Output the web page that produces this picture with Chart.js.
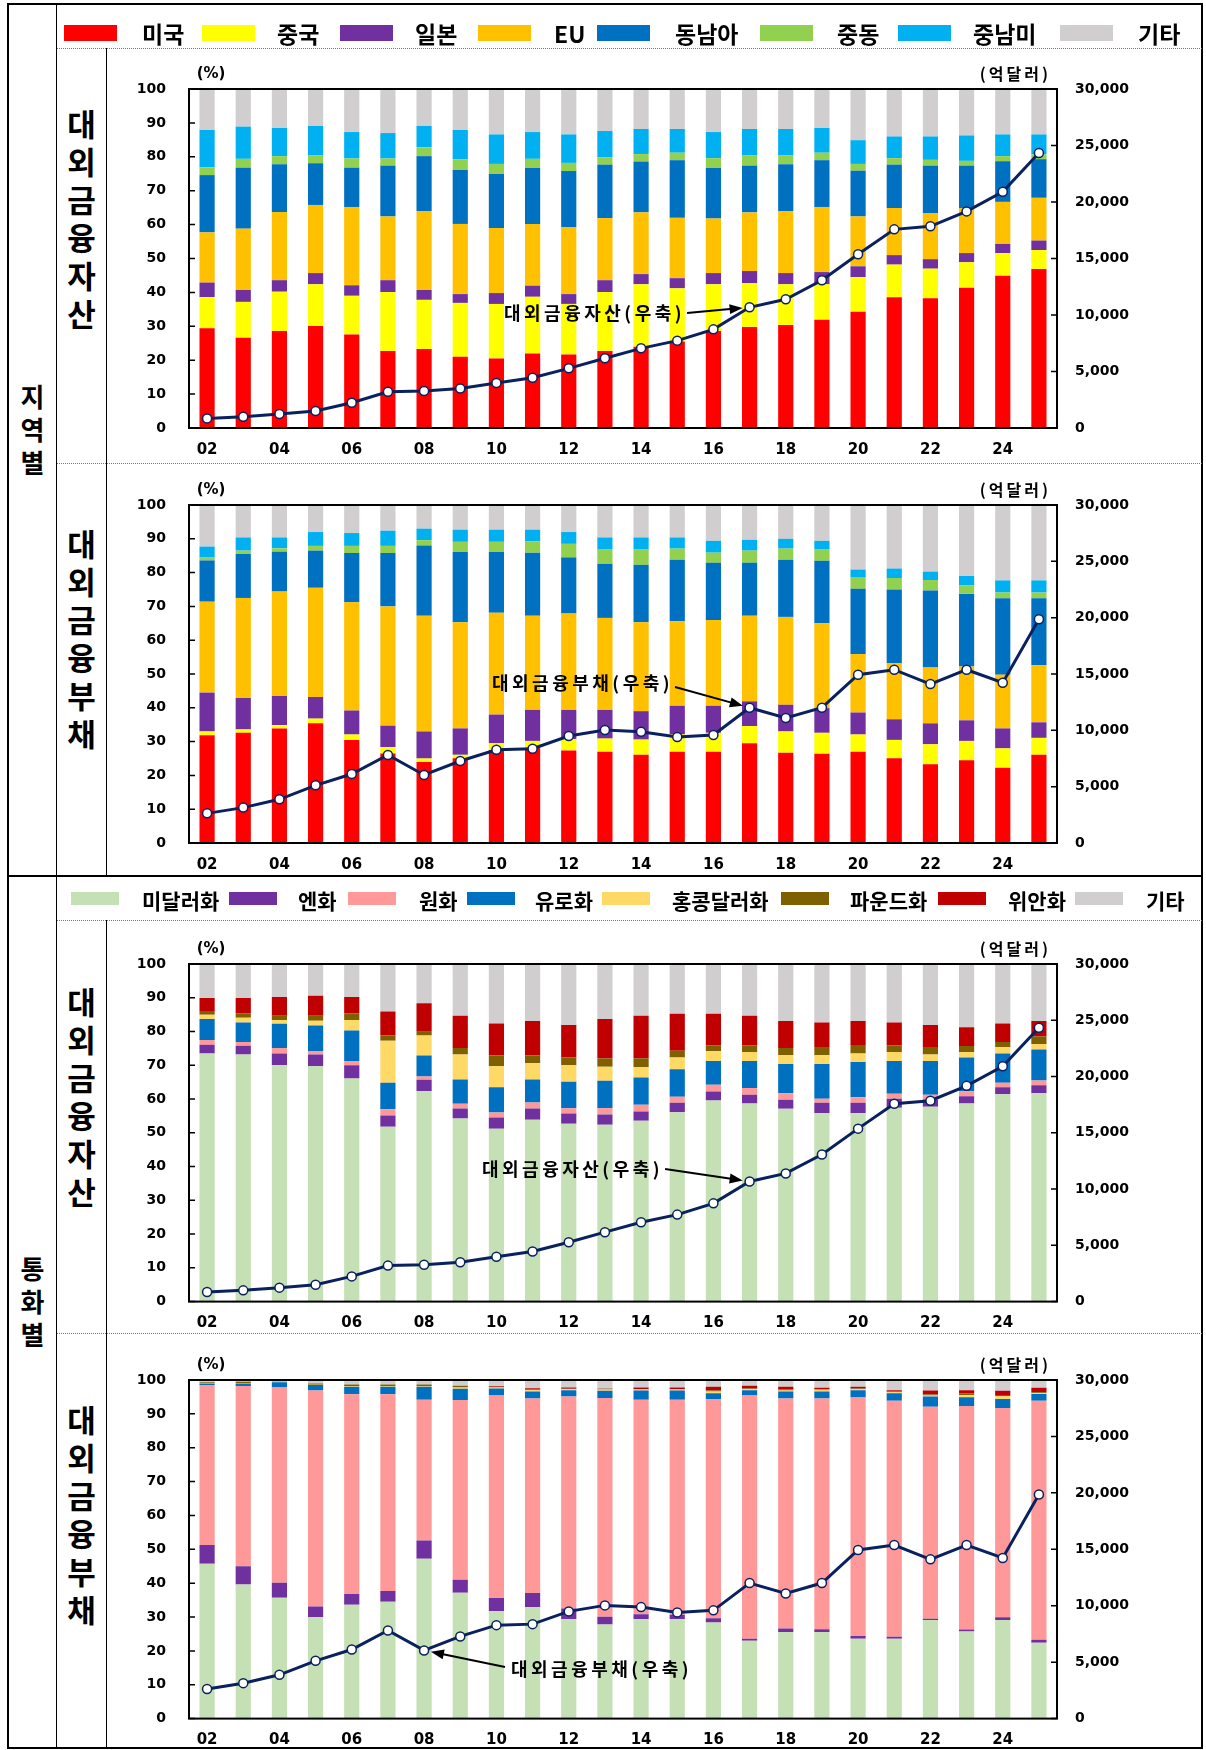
<!DOCTYPE html>
<html>
<head>
<meta charset="utf-8">
<title>대외금융자산·부채 구성</title>
<script src="https://cdn.jsdelivr.net/npm/chart.js@4.4.1/dist/chart.umd.min.js"></script>
<style>
  body { margin: 0; background: #fff; }
  #page { position: relative; width: 1206px; height: 1750px; overflow: hidden; font-family: "Noto Sans CJK KR", sans-serif; }
  .ln { position: absolute; background: #000; }
  .dot { position: absolute; height: 0; border-top: 1px dotted #777; }
  .lg { position: absolute; font-weight: 700; color: #000; white-space: nowrap; }
  .sw { position: absolute; }
  .vt { position: absolute; text-align: center; font-weight: 700; color: #000; }
  canvas { position: absolute; }
</style>
</head>
<body>
<div id="page">
  <canvas id="c1" width="1096" height="415" style="left:106px;top:48px"></canvas>
  <canvas id="c2" width="1096" height="413" style="left:106px;top:463px"></canvas>
  <canvas id="c3" width="1096" height="413" style="left:106px;top:920px"></canvas>
  <canvas id="c4" width="1096" height="417" style="left:106px;top:1333px"></canvas>

  <div class="ln" style="left:7px;top:3px;width:1196px;height:2px"></div>
  <div class="ln" style="left:7px;top:1747px;width:1196px;height:2px"></div>
  <div class="ln" style="left:7px;top:3px;width:2px;height:1746px"></div>
  <div class="ln" style="left:1201px;top:3px;width:2px;height:1746px"></div>
  <div class="ln" style="left:56px;top:3px;width:1px;height:1746px"></div>
  <div class="ln" style="left:106px;top:48px;width:1px;height:828px"></div>
  <div class="ln" style="left:106px;top:920px;width:1px;height:828px"></div>
  <div class="ln" style="left:7px;top:875px;width:1196px;height:2px"></div>
  <div class="dot" style="left:57px;top:48px;width:1145px"></div>
  <div class="dot" style="left:57px;top:463px;width:1145px"></div>
  <div class="dot" style="left:57px;top:920px;width:1145px"></div>
  <div class="dot" style="left:57px;top:1333px;width:1145px"></div>
</div>

<script>
// x categories (years 2002-2025) and the labels actually printed on the axis
var years = ['02','03','04','05','06','07','08','09','10','11','12','13','14','15','16','17','18','19','20','21','22','23','24','25'];
var xTickLabels = ['02','04','06','08','10','12','14','16','18','20','22','24'];
var pctTicks = [0,10,20,30,40,50,60,70,80,90,100];
var usdTicks = [0,5000,10000,15000,20000,25000,30000];

// 총액 (억달러, 우축)
var assetTotal = [850,1000,1240,1500,2240,3200,3270,3500,3980,4450,5280,6170,7050,7730,8730,10680,11390,13070,15370,17580,17850,19170,20910,24340];
var liabTotal  = [2630,3140,3880,5120,6120,7810,6040,7280,8280,8370,9500,10030,9880,9410,9590,12010,11090,12010,14940,15380,14110,15380,14230,19850];

// 지역별 대외금융자산 (%)
var regAssetUS    = [29.4,26.6,28.6,30.1,27.6,22.7,23.3,21.0,20.5,22.0,21.7,22.7,24.0,25.5,28.6,29.8,30.4,31.9,34.3,38.6,38.3,41.4,44.9,46.9];
var regAssetCN    = [9.2,10.6,11.6,12.3,11.4,17.4,14.5,15.9,16.1,16.7,14.9,17.4,18.4,15.7,13.8,12.9,12.0,10.5,10.2,9.6,8.7,7.5,6.7,5.6];
var regAssetJP    = [4.3,3.5,3.4,3.3,3.1,3.5,2.9,2.6,3.2,3.3,2.9,3.5,3.0,3.0,3.3,3.6,3.3,3.6,3.2,2.8,2.8,2.7,2.7,2.8];
var regAssetEU    = [14.8,18.1,20.1,20.1,23.1,18.8,23.3,20.7,19.2,18.2,19.8,18.3,18.2,17.8,16.1,17.3,18.3,19.2,14.7,13.9,13.5,13.3,12.4,12.6];
var regAssetSEA   = [16.9,18.0,14.1,12.3,11.6,15.0,16.2,15.9,15.9,16.6,16.5,15.8,15.0,17.0,15.0,13.8,13.8,13.8,13.5,12.8,14.1,12.5,12.0,11.4];
var regAssetME    = [2.3,2.6,2.4,2.4,2.7,2.1,2.6,3.2,3.0,2.6,2.4,2.2,2.2,2.2,2.8,3.1,2.7,2.2,2.0,1.9,1.7,1.4,1.5,1.4];
var regAssetLATAM = [11.0,9.5,8.3,8.6,7.8,7.5,6.3,8.6,8.7,7.9,8.4,7.7,7.4,7.0,7.7,7.7,7.7,7.3,7.0,6.4,6.9,7.5,6.4,5.9];
var regAssetETC   = [12.1,11.1,11.5,10.9,12.7,13.0,10.9,12.1,13.4,12.7,13.4,12.4,11.8,11.8,12.7,11.8,11.8,11.5,15.1,14.0,14.0,13.7,13.4,13.4];

// 지역별 대외금융부채 (%)
var regLiabUS    = [31.9,32.6,33.9,35.4,30.5,26.5,24.0,25.1,27.5,28.2,27.4,27.0,26.1,27.0,27.0,29.5,26.7,26.4,27.0,25.1,23.3,24.5,22.3,26.1];
var regLiabCN    = [1.1,1.0,1.0,1.4,1.6,1.9,1.0,1.0,2.0,2.0,3.3,3.9,4.5,5.1,5.6,5.1,6.3,6.2,5.1,5.4,5.9,5.7,5.7,5.0];
var regLiabJP    = [11.5,9.3,8.6,6.4,7.1,6.3,8.0,7.8,8.5,9.2,8.7,8.5,8.4,8.5,8.0,7.3,7.9,7.3,6.5,6.1,6.2,6.1,5.9,4.6];
var regLiabEU    = [26.9,29.6,30.9,32.3,32.0,35.3,34.2,31.4,30.1,27.8,28.5,27.2,26.3,25.0,25.4,25.3,26.0,25.1,17.3,16.6,16.5,15.9,15.9,16.9];
var regLiabSEA   = [12.2,13.0,11.8,11.0,14.6,15.8,20.8,20.9,18.1,18.7,16.6,16.0,17.0,18.2,16.9,15.7,16.9,18.5,19.3,21.8,22.8,21.5,22.6,19.8];
var regLiabME    = [1.0,1.0,1.0,1.4,2.1,2.1,1.6,2.9,2.9,3.4,4.0,4.2,4.5,3.3,3.0,3.6,3.3,3.3,3.3,3.4,3.1,2.6,1.7,1.7];
var regLiabLATAM = [3.1,3.9,3.2,4.1,3.8,4.5,3.4,3.6,3.6,3.4,3.5,3.6,3.6,3.3,3.5,3.2,2.9,2.6,2.4,2.8,2.5,2.7,3.6,3.6];
var regLiabETC   = [12.3,9.6,9.6,8.0,8.3,7.6,7.0,7.3,7.3,7.3,8.0,9.6,9.6,9.6,10.6,10.3,10.0,10.6,19.1,18.8,19.7,21.0,22.3,22.3];

// 통화별 대외금융자산 (%)
var curAssetUSD = [73.5,73.2,70.1,69.8,66.1,51.8,62.3,54.2,51.2,53.9,52.7,52.4,53.6,56.1,59.6,58.7,57.1,55.8,55.8,57.4,57.7,58.7,61.4,61.7];
var curAssetJPY = [2.6,2.6,3.4,3.4,3.9,3.3,3.4,3.0,3.3,3.3,3.0,3.0,2.7,2.8,2.6,2.6,2.7,3.1,3.1,2.7,2.2,2.1,2.1,2.4];
var curAssetKRW = [1.4,1.1,1.6,1.0,1.3,1.9,1.0,1.4,1.5,1.8,1.6,1.9,2.0,1.8,2.0,2.0,1.9,1.2,1.6,1.5,1.4,1.5,1.3,1.4];
var curAssetEUR = [6.2,5.8,7.2,7.6,9.0,7.8,6.2,7.2,7.5,6.8,7.8,8.1,8.1,8.1,7.1,8.0,8.7,10.3,10.5,9.7,10.0,10.0,8.7,9.2];
var curAssetHKD = [1.3,1.4,1.1,1.4,3.1,12.5,5.9,7.4,6.3,4.9,4.9,4.2,3.0,3.5,2.9,2.6,2.6,2.6,2.5,2.6,1.9,1.6,1.9,1.6];
var curAssetGBP = [1.1,1.3,1.3,1.5,2.0,1.5,1.1,1.9,3.1,2.2,2.3,2.4,2.6,2.0,1.7,2.0,2.1,2.4,2.5,2.0,2.2,1.8,1.5,2.2];
var curAssetCNY = [3.8,4.5,5.5,5.9,4.8,7.1,8.5,9.6,9.5,10.2,9.6,11.7,12.7,11.0,9.4,8.8,8.0,7.3,7.1,6.8,6.5,5.6,5.5,4.6];
var curAssetETC = [10.1,10.1,9.8,9.4,9.8,14.1,11.6,15.3,17.6,16.9,18.1,16.3,15.3,14.7,14.7,15.3,16.9,17.3,16.9,17.3,18.1,18.7,17.6,16.9];

// 통화별 대외금융부채 (%)
var curLiabUSD = [45.7,39.6,35.7,30.0,33.6,34.5,47.2,37.2,31.8,32.9,29.4,27.8,29.4,29.4,28.4,23.0,25.6,25.6,23.6,23.6,29.1,25.7,29.1,22.4];
var curLiabJPY = [5.6,5.4,4.4,3.1,3.2,3.2,5.4,3.8,3.8,4.2,3.1,2.3,1.4,1.3,1.2,0.6,1.0,0.8,0.8,0.6,0.4,0.6,0.8,0.9];
var curLiabKRW = [47.2,53.2,57.7,63.8,59.0,58.1,41.6,53.1,59.8,57.4,62.6,64.6,63.4,63.5,64.8,71.8,67.9,68.1,70.4,69.7,62.6,66.0,61.8,70.6];
var curLiabEUR = [0.5,0.8,1.5,1.6,2.2,2.2,3.8,3.3,2.1,2.1,1.9,2.1,2.7,2.7,1.7,1.6,2.1,2.1,2.2,2.2,3.0,2.6,2.7,2.0];
var curLiabHKD = [0.1,0.1,0.1,0.1,0.2,0.2,0.2,0.4,0.3,0.4,0.3,0.4,0.3,0.3,0.5,0.3,0.3,0.5,0.3,0.3,0.3,0.7,0.8,0.2];
var curLiabGBP = [0.2,0.4,0.1,0.4,0.5,0.5,0.5,0.5,0.2,0.2,0.1,0.2,0.1,0.1,0.3,0.2,0.3,0.2,0.2,0.3,0.3,0.4,0.4,0.3];
var curLiabCNY = [0.0,0.0,0.0,0.0,0.0,0.0,0.0,0.0,0.2,0.4,0.4,0.1,0.5,0.5,1.1,0.8,0.8,0.4,0.5,0.3,1.2,1.0,1.2,1.3];
var curLiabETC = [0.7,0.5,0.5,1.0,1.3,1.3,1.3,1.7,1.8,2.4,2.2,2.5,2.2,2.2,2.0,1.7,2.0,2.3,2.0,3.0,3.1,3.0,3.2,2.3];

var regionNames = ['미국','중국','일본','EU','동남아','중동','중남미','기타'];
var currencyNames = ['미달러화','엔화','원화','유로화','홍콩달러화','파운드화','위안화','기타'];

var regionColors = ['#FF0000','#FFFF00','#7030A0','#FFC000','#0070C0','#92D050','#00B0F0','#D0CECE'];
var currencyColors = ['#C5E0B4','#7030A0','#FF9999','#0070C0','#FFD966','#7F6000','#C00000','#D0CECE'];
var lineColor = '#0A215F';

Chart.defaults.font.family = "'DejaVu Sans'";
Chart.defaults.color = '#000';

// ---------- page decorations (legends, side labels) ----------
var page = document.getElementById('page');

function addLegend(names, colors, pos, swTop, swW, swH, txtMid, fontSize) {
  for (var i = 0; i < names.length; i++) {
    var sw = document.createElement('div');
    sw.className = 'sw';
    sw.style.cssText = 'left:' + pos[i][0] + 'px;top:' + swTop + 'px;width:' + swW + 'px;height:' + swH + 'px;background:' + colors[i];
    page.appendChild(sw);
    var tx = document.createElement('div');
    tx.className = 'lg';
    tx.style.cssText = 'left:' + pos[i][1] + 'px;top:' + (txtMid - 15) + 'px;line-height:30px;font-size:' + fontSize + 'px';
    tx.textContent = names[i];
    page.appendChild(tx);
  }
}
addLegend(regionNames, regionColors,
  [[64,142],[202,277],[340,415],[478,554],[597,675],[760,837],[898,973],[1060,1138]], 25, 53, 16, 33, 23);
addLegend(currencyNames, currencyColors,
  [[71,142],[229,298],[348,419],[467,535],[602,672],[781,850],[938,1008],[1075,1146]], 892, 48, 13, 900, 21);

function addVertical(text, left, width, top, size, lh) {
  var d = document.createElement('div');
  d.className = 'vt';
  d.style.cssText = 'left:' + left + 'px;top:' + top + 'px;width:' + width + 'px;font-size:' + size + 'px;line-height:' + lh + 'px';
  d.innerHTML = text.split('').join('<br>');
  page.appendChild(d);
}
addVertical('지역별', 9, 47, 379, 26, 33);
addVertical('통화별', 9, 47, 1251, 26, 33);
addVertical('대외금융자산', 57, 49, 104, 31, 38);
addVertical('대외금융부채', 57, 49, 524, 31, 38);
addVertical('대외금융자산', 57, 49, 982, 31, 38);
addVertical('대외금융부채', 57, 49, 1400, 31, 38);

// ---------- frame, inward ticks, unit labels, arrow note ----------
var decorPlugin = {
  id: 'decor',
  afterDatasetsDraw: function (chart) {
    var ctx = chart.ctx, a = chart.chartArea;
    var yl = chart.scales.y, yr = chart.scales.y1;
    var note = chart.options.plugins.decor;
    ctx.save();
    ctx.strokeStyle = '#000';
    ctx.lineWidth = 1.5;
    ctx.beginPath();
    yl.ticks.forEach(function (t) {
      var p = yl.getPixelForValue(t.value);
      ctx.moveTo(a.left, p); ctx.lineTo(a.left + 6, p);
    });
    yr.ticks.forEach(function (t) {
      var p = yr.getPixelForValue(t.value);
      ctx.moveTo(a.right - 6, p); ctx.lineTo(a.right, p);
    });
    ctx.stroke();
    ctx.lineWidth = 2;
    ctx.strokeRect(a.left, a.top, a.right - a.left, a.bottom - a.top);

    ctx.fillStyle = '#000';
    ctx.textBaseline = 'middle';
    ctx.textAlign = 'center';
    ctx.font = "bold 15px 'DejaVu Sans'";
    ctx.fillText('(%)', a.left + 22, a.top - 15);
    ctx.textAlign = 'right';
    ctx.font = "bold 16px 'Noto Sans CJK KR'";
    ctx.letterSpacing = '3px';
    ctx.fillText('(억달러)', a.right - 6, a.top - 15);

    // note text with arrow to a point of the total line
    ctx.textAlign = 'left';
    ctx.font = "bold 18px 'Noto Sans CJK KR'";
    ctx.letterSpacing = '3.5px';
    ctx.fillText(note.text, note.x, note.y);
    var w = ctx.measureText(note.text).width;
    ctx.letterSpacing = '0px';
    var pt = chart.getDatasetMeta(0).data[note.idx];
    var tx = note.side === 'end' ? note.x + w + 2 : note.x - 6;
    var ty = note.y + note.dy;
    var dx = pt.x - tx, dy = pt.y - ty, len = Math.sqrt(dx * dx + dy * dy);
    var ux = dx / len, uy = dy / len;
    var hx = pt.x - ux * 7, hy = pt.y - uy * 7;
    ctx.lineWidth = 2;
    ctx.beginPath();
    ctx.moveTo(tx, ty);
    ctx.lineTo(hx - ux * 10, hy - uy * 10);
    ctx.stroke();
    ctx.beginPath();
    ctx.moveTo(hx, hy);
    ctx.lineTo(hx - ux * 13 - uy * 5, hy - uy * 13 + ux * 5);
    ctx.lineTo(hx - ux * 13 + uy * 5, hy - uy * 13 - ux * 5);
    ctx.closePath();
    ctx.fill();
    ctx.restore();
  }
};

function makeChart(id, series, names, colors, totals, padTop, axisH, note) {
  var datasets = [{
    type: 'line',
    data: totals,
    yAxisID: 'y1',
    borderColor: lineColor,
    borderWidth: 3,
    pointRadius: 4.5,
    pointBackgroundColor: '#fff',
    pointBorderColor: lineColor,
    pointBorderWidth: 1.5,
    tension: 0,
    order: 0
  }];
  for (var i = 0; i < series.length; i++) {
    datasets.push({
      type: 'bar',
      label: names[i],
      data: series[i],
      yAxisID: 'y',
      backgroundColor: colors[i],
      borderWidth: 0,
      barPercentage: 0.42,
      categoryPercentage: 1,
      order: 1
    });
  }
  return new Chart(document.getElementById(id), {
    data: { labels: years, datasets: datasets },
    options: {
      responsive: false,
      animation: false,
      layout: { padding: { top: padTop, left: 0, right: 0, bottom: 0 } },
      plugins: { legend: { display: false }, tooltip: { enabled: false }, decor: note },
      scales: {
        x: {
          stacked: true,
          grid: { display: false, drawTicks: false },
          border: { display: false },
          ticks: {
            autoSkip: false, maxRotation: 0, padding: 13,
            font: { size: 15, weight: 'bold' },
            callback: function (v, i) { return xTickLabels.indexOf(years[i]) >= 0 ? years[i] : ''; }
          },
          afterFit: function (s) { s.height = axisH; }
        },
        y: {
          position: 'left', stacked: true, min: 0, max: 100,
          grid: { display: false, drawTicks: false },
          border: { display: false },
          afterBuildTicks: function (s) { s.ticks = pctTicks.map(function (v) { return { value: v }; }); },
          ticks: { padding: 23, font: { size: 14, weight: 'bold' } },
          afterFit: function (s) { s.width = 83; }
        },
        y1: {
          position: 'right', min: 0, max: 30000,
          grid: { display: false, drawTicks: false },
          border: { display: false },
          afterBuildTicks: function (s) { s.ticks = usdTicks.map(function (v) { return { value: v }; }); },
          ticks: {
            padding: 18, font: { size: 14, weight: 'bold' },
            callback: function (v) { return Number(v).toLocaleString('en-US'); }
          },
          afterFit: function (s) { s.width = 145; }
        }
      }
    },
    plugins: [decorPlugin]
  });
}

makeChart('c1',
  [regAssetUS, regAssetCN, regAssetJP, regAssetEU, regAssetSEA, regAssetME, regAssetLATAM, regAssetETC],
  regionNames, regionColors, assetTotal, 41, 35,
  { text: '대외금융자산(우축)', x: 398, y: 265, dy: 0, idx: 15, side: 'end' });
makeChart('c2',
  [regLiabUS, regLiabCN, regLiabJP, regLiabEU, regLiabSEA, regLiabME, regLiabLATAM, regLiabETC],
  regionNames, regionColors, liabTotal, 42, 33,
  { text: '대외금융부채(우축)', x: 386, y: 220, dy: 4, idx: 15, side: 'end' });
makeChart('c3',
  [curAssetUSD, curAssetJPY, curAssetKRW, curAssetEUR, curAssetHKD, curAssetGBP, curAssetCNY, curAssetETC],
  currencyNames, currencyColors, assetTotal, 44, 31,
  { text: '대외금융자산(우축)', x: 376, y: 249, dy: 0, idx: 15, side: 'end' });
makeChart('c4',
  [curLiabUSD, curLiabJPY, curLiabKRW, curLiabEUR, curLiabHKD, curLiabGBP, curLiabCNY, curLiabETC],
  currencyNames, currencyColors, liabTotal, 47, 31,
  { text: '대외금융부채(우축)', x: 405, y: 336, dy: -2, idx: 6, side: 'start' });
</script>
</body>
</html>
